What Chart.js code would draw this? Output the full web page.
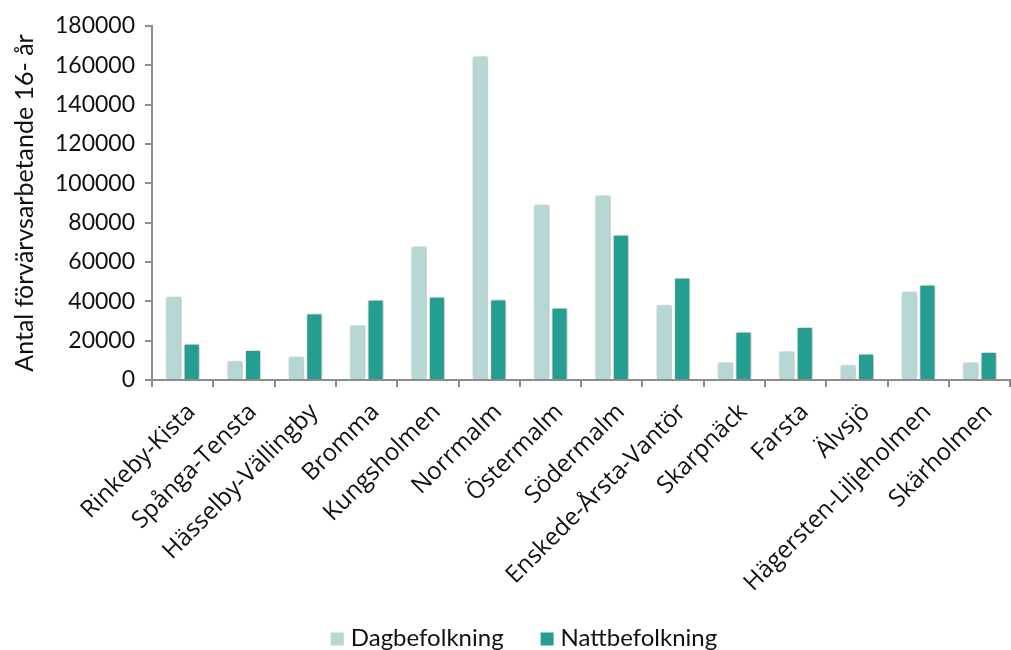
<!DOCTYPE html>
<html>
<head>
<meta charset="utf-8">
<script src="https://cdn.jsdelivr.net/npm/chart.js@4"></script>
<style>
  html, body { margin: 0; padding: 0; background: #fff; }
  #wrap { width: 1011px; height: 650px; }
</style>
</head>
<body>
<div id="wrap"><canvas id="chart" width="1011" height="650"></canvas></div>
<script>
// Data
const districts = ['Rinkeby-Kista', 'Spånga-Tensta', 'Hässelby-Vällingby', 'Bromma', 'Kungsholmen', 'Norrmalm', 'Östermalm', 'Södermalm', 'Enskede-Årsta-Vantör', 'Skarpnäck', 'Farsta', 'Älvsjö', 'Hägersten-Liljeholmen', 'Skärholmen'];
const dagbefolkning = [42500, 9800, 12000, 28000, 68000, 164700, 89200, 94000, 38300, 9200, 14800, 7700, 45000, 9200];
const nattbefolkning = [18400, 15300, 33800, 40800, 42300, 40900, 36800, 73800, 52000, 24500, 27000, 13400, 48400, 14300];
const yTicks = [0, 20000, 40000, 60000, 80000, 100000, 120000, 140000, 160000, 180000];

const DAG_COLOR = '#b5d8d5';
const NATT_COLOR = '#259e92';
const AXIS_COLOR = '#8c8c8c';
const TEXT_COLOR = '#111111';

// soft drop shadow behind the bars
const barShadow = {
    id: 'barShadow',
    beforeDatasetsDraw(chart) {
        const ctx = chart.ctx;
        ctx.save();
        ctx.shadowColor = 'rgba(0,0,0,0.35)';
        ctx.shadowBlur = 5;
        ctx.shadowOffsetX = 1;
        ctx.shadowOffsetY = 0;
    },
    afterDatasetsDraw(chart) {
        chart.ctx.restore();
    }
};

// legend drawn by hand so spacing/position match the original
const bottomLegend = {
    id: 'bottomLegend',
    afterDraw(chart) {
        const ctx = chart.ctx;
        const box = 13, textGap = 7, itemGap = 37;
        const centerX = 524, centerY = 638;
        ctx.save();
        ctx.font = '24px Lato';
        ctx.textBaseline = 'middle';
        ctx.textAlign = 'left';
        const items = chart.data.datasets.map(ds => ({
            text: ds.label, color: ds.backgroundColor, w: ctx.measureText(ds.label).width
        }));
        let total = items.reduce((s, it) => s + box + textGap + it.w, 0) + itemGap * (items.length - 1);
        let x = centerX - total / 2;
        items.forEach(it => {
            ctx.fillStyle = it.color;
            ctx.fillRect(x, centerY - box / 2 + 1, box, box);
            ctx.fillStyle = TEXT_COLOR;
            ctx.fillText(it.text, x + box + textGap, centerY);
            x += box + textGap + it.w + itemGap;
        });
        ctx.restore();
    }
};

new Chart(document.getElementById('chart'), {
    type: 'bar',
    data: {
        labels: districts,
        datasets: [
            {
                label: 'Dagbefolkning',
                data: dagbefolkning,
                backgroundColor: DAG_COLOR,
                borderColor: '#ffffff',
                borderWidth: 1,
                categoryPercentage: 0.59,
                barPercentage: 0.89
            },
            {
                label: 'Nattbefolkning',
                data: nattbefolkning,
                backgroundColor: NATT_COLOR,
                borderColor: '#ffffff',
                borderWidth: 1,
                categoryPercentage: 0.59,
                barPercentage: 0.89
            }
        ]
    },
    options: {
        responsive: false,
        animation: false,
        layout: { padding: { top: 26, right: 0, left: 10, bottom: 45 } },
        plugins: {
            legend: { display: false },
            tooltip: { enabled: false }
        },
        scales: {
            x: {
                offset: true,
                grid: {
                    offset: true,
                    drawOnChartArea: false,
                    drawTicks: true,
                    tickLength: 7,
                    color: AXIS_COLOR,
                    lineWidth: 2
                },
                border: { color: AXIS_COLOR, width: 2 },
                ticks: {
                    color: TEXT_COLOR,
                    font: { family: 'Open Sans', size: 24 },
                    minRotation: 45,
                    maxRotation: 45,
                    autoSkip: false,
                    padding: 11,
                    labelOffset: 9
                },
                afterFit(scale) { scale.height = 225; }
            },
            y: {
                min: 0,
                max: 180000,
                afterBuildTicks(scale) { scale.ticks = yTicks.map(v => ({ value: v })); },
                grid: {
                    drawOnChartArea: false,
                    drawTicks: true,
                    tickLength: 7,
                    color: AXIS_COLOR,
                    lineWidth: 2
                },
                border: { color: AXIS_COLOR, width: 2 },
                ticks: {
                    color: TEXT_COLOR,
                    font: { family: 'Lato', size: 23 },
                    padding: 10,
                    callback: (value) => String(value)
                },
                title: {
                    display: true,
                    text: 'Antal förvärvsarbetande 16- år',
                    color: TEXT_COLOR,
                    font: { family: 'Lato', size: 25 },
                    padding: 0
                },
                afterFit(scale) { scale.width = 142; }
            }
        }
    },
    plugins: [barShadow, bottomLegend]
});
</script>
</body>
</html>
